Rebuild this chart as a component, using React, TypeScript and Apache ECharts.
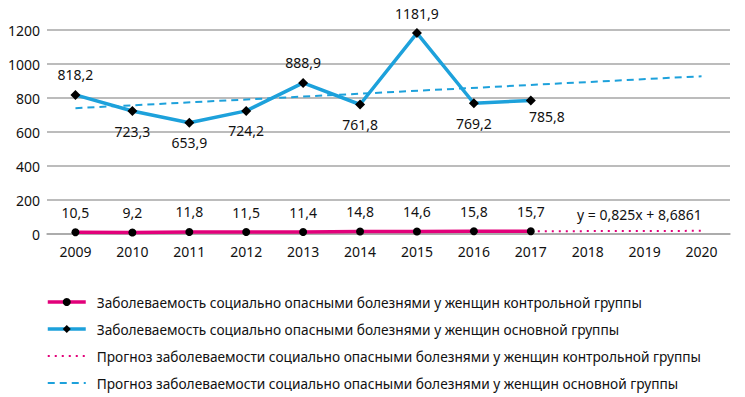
import React, { useEffect, useRef } from "react";
import * as echarts from "echarts";

const years = ["2009", "2010", "2011", "2012", "2013", "2014", "2015", "2016", "2017", "2018", "2019", "2020"];
const controlGroup = [10.5, 9.2, 11.8, 11.5, 11.4, 14.8, 14.6, 15.8, 15.7];
const mainGroup = [818.2, 723.3, 653.9, 724.2, 888.9, 761.8, 1181.9, 769.2, 785.8];
const controlForecast = [null, null, null, null, null, null, null, null, 16.1, null, null, 18.6];
const mainForecast = [740, null, null, null, null, null, null, null, null, null, null, 928];
const mainLabelPos = ["top", "bottom", "bottom", "bottom", "top", "bottom", "top", "bottom", "bottom"];

const names = [
  "Заболеваемость социально опасными болезнями у женщин контрольной группы",
  "Заболеваемость социально опасными болезнями у женщин основной группы",
  "Прогноз заболеваемости социально опасными болезнями у женщин контрольной группы",
  "Прогноз заболеваемости социально опасными болезнями у женщин основной группы",
];

const PINK = "#E2007A";
const BLUE = "#1DA1DB";
const FONT = "Noto Sans";
const fmt = (v: number) => String(v).replace(".", ",");

export default function App() {
  const ref = useRef<HTMLDivElement>(null);
  useEffect(() => {
    const chart = echarts.init(ref.current!, null, { renderer: "svg" });
    chart.setOption({
      animation: false,
      textStyle: { fontFamily: FONT },
      grid: { left: 47, right: 15, top: 30, bottom: 163 },
      xAxis: {
        type: "category",
        data: years,
        boundaryGap: true,
        axisLine: { lineStyle: { color: "#a6a6a6", width: 1.5 } },
        axisTick: { show: false },
        axisLabel: { color: "#111", fontSize: 14, fontFamily: FONT, margin: 10 },
      },
      yAxis: {
        type: "value",
        min: 0,
        max: 1200,
        interval: 200,
        axisLine: { show: false },
        axisTick: { show: false },
        splitLine: { lineStyle: { color: "#a6a6a6", width: 1.5 } },
        axisLabel: { color: "#111", fontSize: 14, fontFamily: FONT, margin: 7, formatter: (v: number) => String(v) },
      },
      legend: {
        orient: "vertical",
        left: 46,
        top: 295,
        padding: 0,
        itemGap: 13,
        itemWidth: 38,
        itemHeight: 10,
        textStyle: { color: "#111", fontSize: 13.7, fontFamily: FONT, padding: [0, 0, 0, 6] },
        data: [
          { name: names[0], lineStyle: { width: 3.5 } },
          { name: names[1], lineStyle: { width: 3.5 } },
          { name: names[2], itemStyle: { opacity: 0 }, lineStyle: { width: 2 } },
          { name: names[3], itemStyle: { opacity: 0 }, lineStyle: { width: 2 } },
        ],
      },
      series: [
        {
          name: names[0],
          type: "line",
          data: controlGroup,
          symbol: "circle",
          symbolSize: 8,
          itemStyle: { color: "#000" },
          lineStyle: { color: PINK, width: 3.5 },
          label: {
            show: true,
            position: "top",
            distance: 9,
            color: "#111",
            fontSize: 14,
            fontFamily: FONT,
            formatter: (p: any) => fmt(p.value),
          },
          z: 4,
        },
        {
          name: names[1],
          type: "line",
          data: mainGroup.map((v, i) => ({
            value: v,
            label: i === mainGroup.length - 1
              ? { position: mainLabelPos[i], offset: [16, -4] }
              : { position: mainLabelPos[i] },
          })),
          symbol: "diamond",
          symbolSize: 10,
          itemStyle: { color: "#000" },
          lineStyle: { color: BLUE, width: 3.5 },
          label: {
            show: true,
            distance: 8,
            color: "#111",
            fontSize: 14,
            fontFamily: FONT,
            formatter: (p: any) => fmt(p.value),
          },
          z: 4,
        },
        {
          name: names[2],
          type: "line",
          data: controlForecast,
          connectNulls: true,
          symbol: "none",
          itemStyle: { color: PINK },
          lineStyle: { color: PINK, width: 2, type: [2, 5] },
          z: 3,
        },
        {
          name: names[3],
          type: "line",
          data: mainForecast,
          connectNulls: true,
          symbol: "none",
          itemStyle: { color: BLUE },
          lineStyle: { color: BLUE, width: 2, type: [7, 5] },
          z: 3,
        },
      ],
      graphic: [
        {
          type: "text",
          left: 577,
          top: 207,
          style: { text: "y = 0,825x + 8,6861", fill: "#111", fontSize: 14, fontFamily: FONT },
        },
      ],
    });
    return () => chart.dispose();
  }, []);
  return <div ref={ref} style={{ width: 745, height: 397, position: "absolute", left: 0, top: 0 }} />;
}
